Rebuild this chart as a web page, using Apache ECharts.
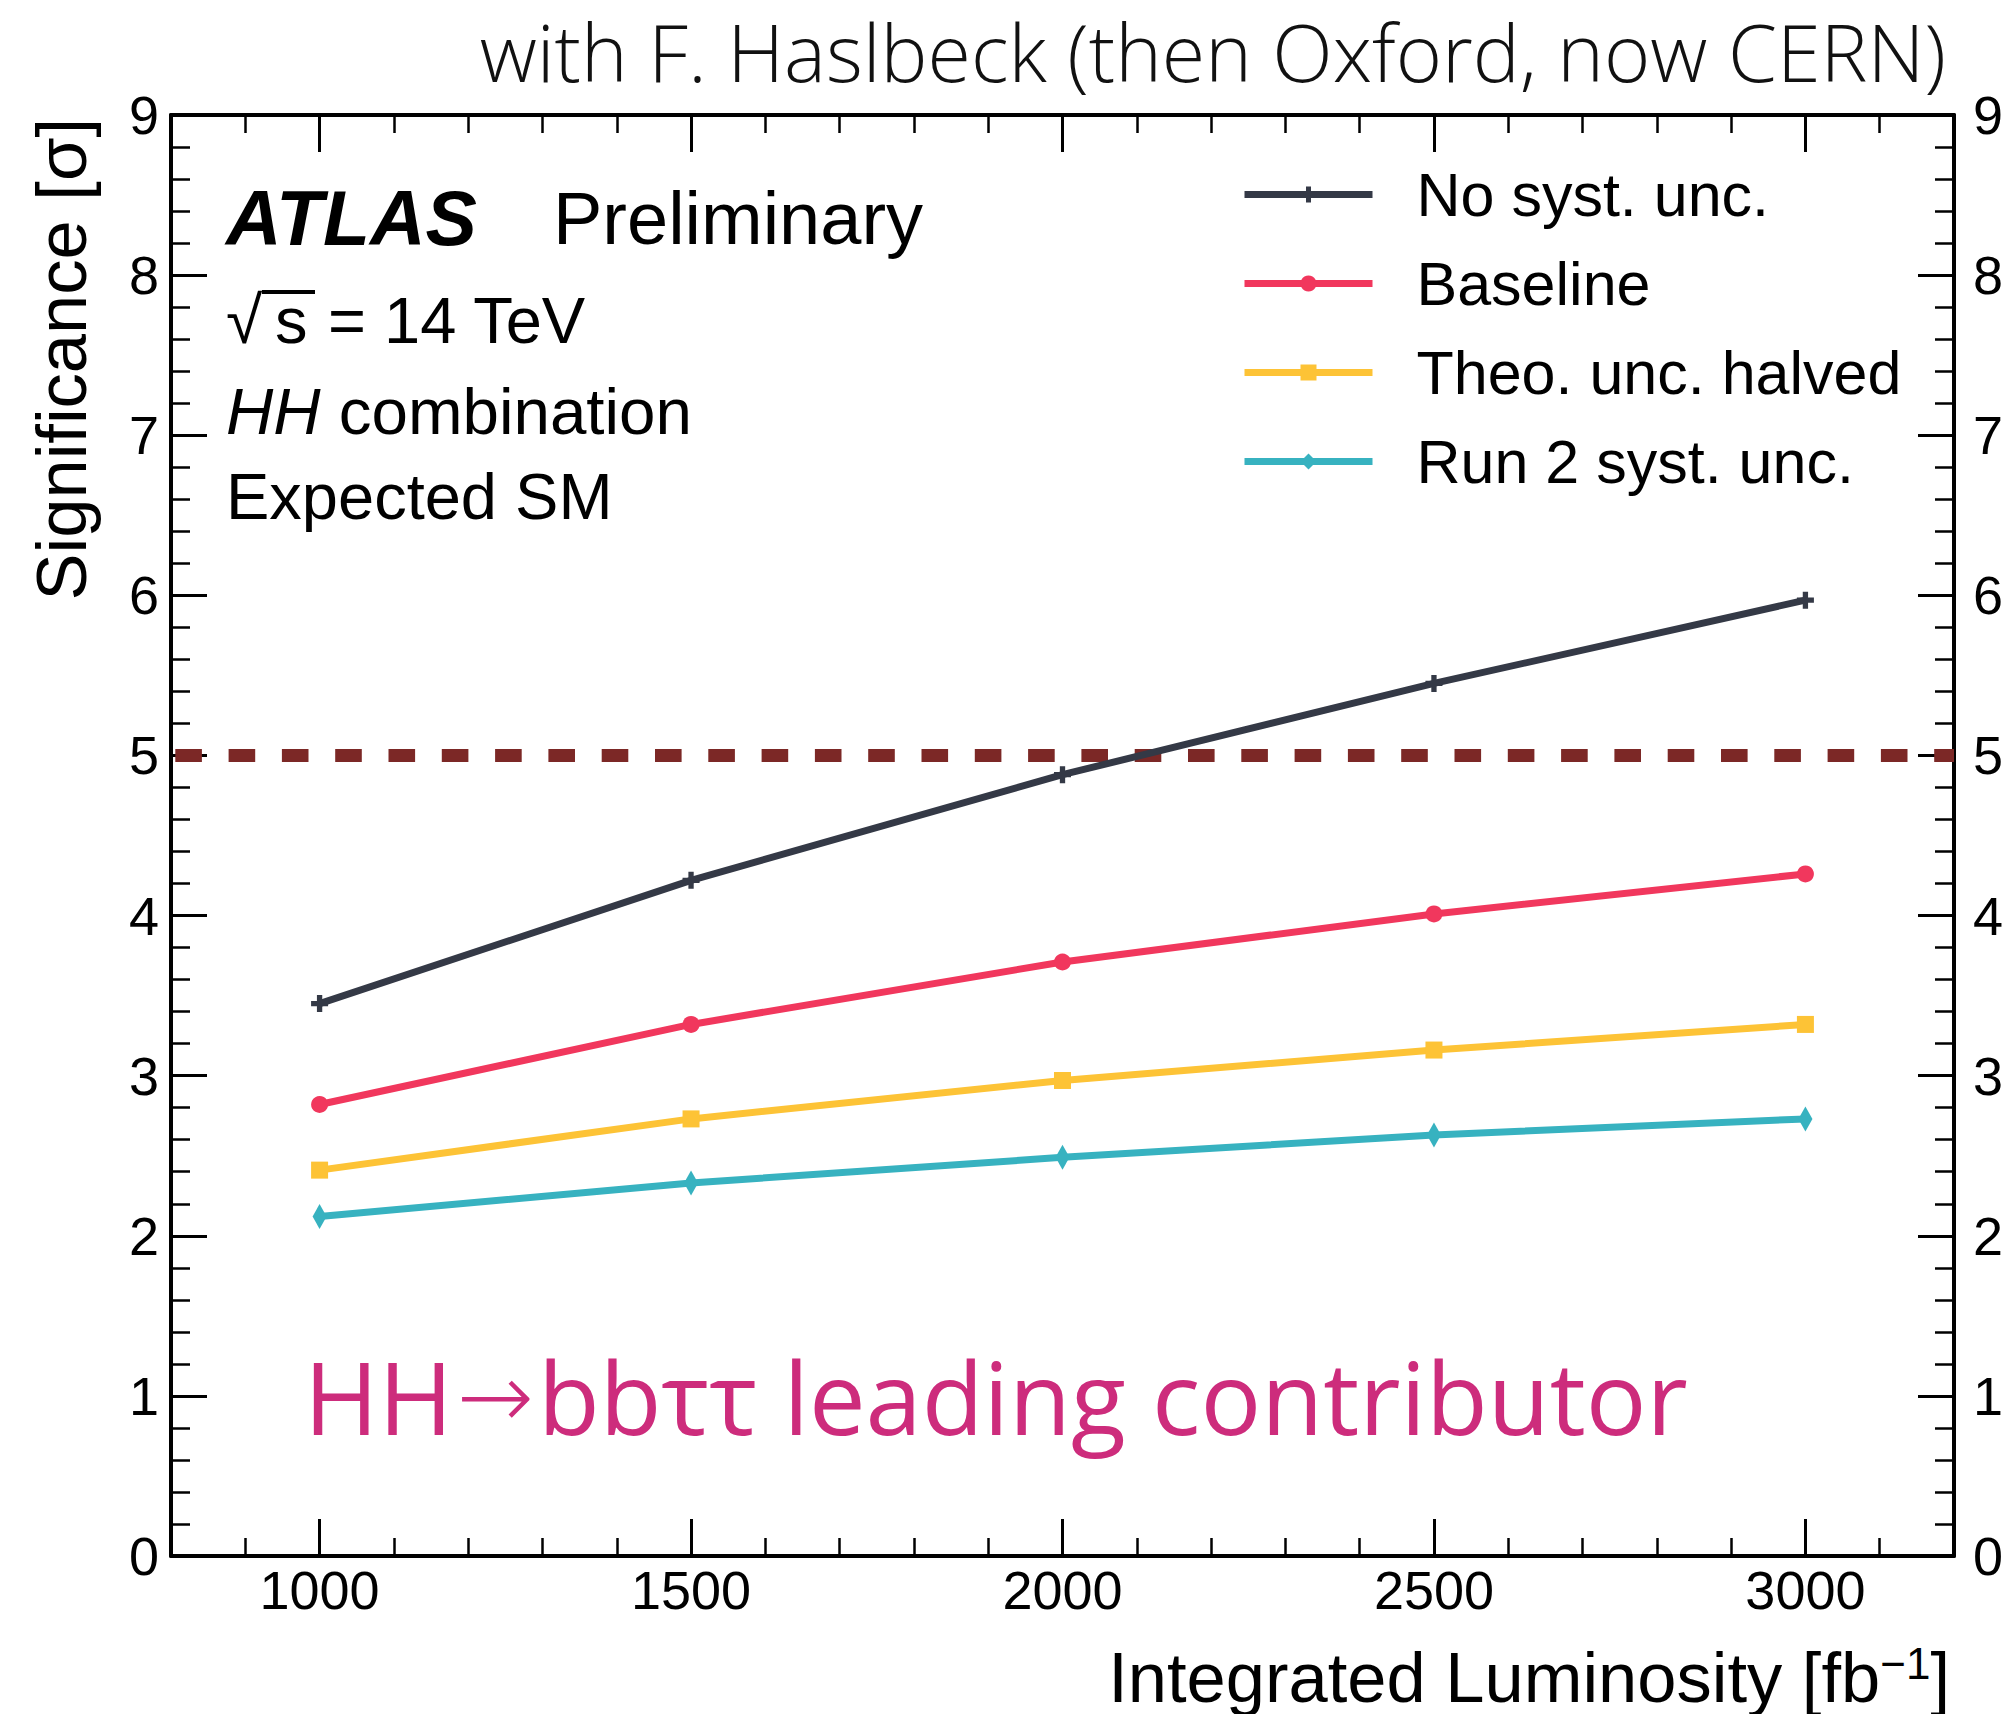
<!DOCTYPE html>
<html>
<head>
<meta charset="utf-8">
<title>HH significance vs integrated luminosity</title>
<script src="https://cdn.jsdelivr.net/npm/echarts@6/dist/echarts.min.js"></script>
<style>
  html, body { margin: 0; padding: 0; background: #ffffff; }
  #chart { width: 2007px; height: 1714px; }
</style>
</head>
<body>
<div id="chart"></div>
<script>
// Integrated luminosity points [fb^-1]
const luminosity = [1000, 1500, 2000, 2500, 3000];

// Expected significance [sigma] for each uncertainty scenario
const noSyst    = [3.45, 4.22, 4.88, 5.45, 5.97];
const baseline  = [2.82, 3.32, 3.71, 4.01, 4.26];
const theoHalf  = [2.41, 2.73, 2.97, 3.16, 3.32];
const run2Syst  = [2.12, 2.33, 2.49, 2.63, 2.73];

// Discovery threshold
const discoveryLevel = 5;

// Axis ranges and tick labels
const xRange = [800, 3200];
const yRange = [0, 9];
const xMajorTicks = [1000, 1500, 2000, 2500, 3000];

const seriesNames = ['No syst. unc.', 'Baseline', 'Theo. unc. halved', 'Run 2 syst. unc.'];
const seriesColors = ['#343946', '#f1375d', '#fdc336', '#37b2c0'];

const helv = '"Liberation Sans", Arial, Helvetica, sans-serif';
const plusSymbol = 'path://M0,5.5h5.5v-5.5h5v5.5h5.5v5h-5.5v5.5h-5v-5.5h-5.5z';
const lineWidth = 7;

const pairs = (ys) => luminosity.map((x, i) => [x, ys[i]]);

function lineSeries(name, ys, color, symbol, size) {
  return {
    name: name,
    type: 'line',
    xAxisIndex: 0,
    yAxisIndex: 0,
    data: pairs(ys),
    symbol: symbol,
    symbolSize: size,
    showAllSymbol: true,
    lineStyle: { color: color, width: lineWidth },
    itemStyle: { color: color, borderWidth: 0 },
    emphasis: { disabled: true },
    z: 5
  };
}

// Shared look of the frame axes
function xAxisBase(position, showLabels) {
  return {
    type: 'value',
    position: position,
    min: xRange[0],
    max: xRange[1],
    interval: 100,
    axisLine: { show: true, onZero: false, lineStyle: { color: '#000', width: 4 } },
    axisTick: { show: true, inside: true, length: 18, lineStyle: { color: '#000', width: 2.5 } },
    axisLabel: {
      show: showLabels,
      customValues: xMajorTicks,
      formatter: (v) => String(v),
      margin: 7,
      color: '#000',
      fontFamily: helv,
      fontSize: 54
    },
    splitLine: { show: false }
  };
}
function xAxisMajor(position) {
  return {
    type: 'value',
    position: position,
    min: xRange[0],
    max: xRange[1],
    interval: 100,
    axisLine: { show: false, onZero: false },
    axisTick: { show: true, inside: true, length: 37, customValues: xMajorTicks, lineStyle: { color: '#000', width: 3 } },
    axisLabel: { show: false },
    splitLine: { show: false }
  };
}
function yAxisBase(position, margin) {
  return {
    type: 'value',
    position: position,
    min: yRange[0],
    max: yRange[1],
    interval: 1,
    axisLine: { show: true, onZero: false, lineStyle: { color: '#000', width: 4 } },
    axisTick: { show: true, inside: true, length: 36, lineStyle: { color: '#000', width: 3 } },
    minorTick: { show: true, splitNumber: 5, length: 19, lineStyle: { color: '#000', width: 2.5 } },
    axisLabel: { show: true, margin: margin, color: '#000', fontFamily: helv, fontSize: 54 },
    splitLine: { show: false },
    minorSplitLine: { show: false }
  };
}

const chart = echarts.init(document.getElementById('chart'), null, { renderer: 'svg', width: 2007, height: 1714 });

const option = {
  backgroundColor: '#ffffff',
  animation: false,
  grid: { left: 171, top: 115, right: 53, bottom: 158, containLabel: false },
  xAxis: [
    xAxisBase('bottom', true),
    xAxisBase('top', false),
    xAxisMajor('bottom'),
    xAxisMajor('top')
  ],
  yAxis: [
    yAxisBase('left', 12),
    yAxisBase('right', 19)
  ],
  legend: {
    orient: 'vertical',
    left: 1241,
    top: 164,
    padding: 0,
    itemWidth: 128,
    itemHeight: 20,
    itemGap: 28,
    data: seriesNames,
    selectedMode: false,
    lineStyle: { width: lineWidth },
    textStyle: {
      fontFamily: helv,
      fontSize: 61,
      lineHeight: 60,
      color: '#000',
      padding: [0, 0, 0, 39]
    }
  },
  series: [
    {
      name: 'discovery',
      type: 'line',
      data: [[xRange[0], discoveryLevel], [xRange[1], discoveryLevel]],
      symbol: 'none',
      silent: true,
      lineStyle: { color: '#7c2826', width: 13, type: [26.6, 26.7], dashOffset: 49.3, cap: 'butt' },
      z: 3
    },
    lineSeries(seriesNames[0], noSyst, seriesColors[0], plusSymbol, 17),
    lineSeries(seriesNames[1], baseline, seriesColors[1], 'circle', 17),
    lineSeries(seriesNames[2], theoHalf, seriesColors[2], 'rect', 17),
    lineSeries(seriesNames[3], run2Syst, seriesColors[3], 'diamond', [14, 25])
  ],
  graphic: [
    // credit line above the frame
    {
      type: 'text', x: 1946, y: 51,
      style: {
        text: 'with F. Haslbeck (then Oxford, now CERN)',
        fontFamily: '"Open Sans", sans-serif', fontWeight: 300, fontSize: 79,
        lineHeight: 80,
        fill: '#111', align: 'right', verticalAlign: 'middle'
      }
    },
    // experiment label
    {
      type: 'text', x: 226, y: 218,
      style: {
        text: 'ATLAS', fontFamily: helv, fontWeight: 'bold', fontStyle: 'italic', fontSize: 77,
        fill: '#000', align: 'left', verticalAlign: 'middle'
      }
    },
    {
      type: 'text', x: 553, y: 218,
      style: {
        text: 'Preliminary', fontFamily: helv, fontSize: 74,
        fill: '#000', align: 'left', verticalAlign: 'middle'
      }
    },
    // centre-of-mass energy with a radical sign
    {
      type: 'text', x: 226, y: 320,
      style: { text: '\u221A', fontFamily: helv, fontSize: 66, fill: '#000', align: 'left', verticalAlign: 'middle' }
    },
    {
      type: 'text', x: 275, y: 320,
      style: { text: 's', fontFamily: helv, fontSize: 65, fill: '#000', align: 'left', verticalAlign: 'middle' }
    },
    {
      type: 'line',
      shape: { x1: 262, y1: 292, x2: 315, y2: 292 },
      style: { stroke: '#000', lineWidth: 4 }
    },
    {
      type: 'text', x: 328, y: 320,
      style: { text: '= 14 TeV', fontFamily: helv, fontSize: 65, fill: '#000', align: 'left', verticalAlign: 'middle' }
    },
    {
      type: 'text', x: 226, y: 411,
      style: {
        text: '{i|HH} combination',
        fontFamily: helv, fontSize: 65.5, fill: '#000', align: 'left', verticalAlign: 'middle',
        rich: { i: { fontFamily: helv, fontSize: 65.5, fontStyle: 'italic', fill: '#000' } }
      }
    },
    {
      type: 'text', x: 226, y: 496,
      style: { text: 'Expected SM', fontFamily: helv, fontSize: 65, fill: '#000', align: 'left', verticalAlign: 'middle' }
    },
    // channel annotation
    {
      type: 'text', x: 304, y: 1396,
      style: {
        text: 'HH{a|\u2192}bb\u03C4\u03C4 leading contributor',
        fontFamily: '"Open Sans", sans-serif', fontSize: 101,
        fill: '#cd2c7c', align: 'left', verticalAlign: 'middle',
        rich: {
          a: { fontFamily: '"DejaVu Sans", sans-serif', fontWeight: 200, fontSize: 92, fill: '#cd2c7c', padding: [0, 4, 0, 4] }
        }
      }
    },
    // axis titles
    {
      type: 'text', x: 1950, y: 1677,
      style: {
        text: 'Integrated Luminosity [fb{s|\u22121}]',
        fontFamily: helv, fontSize: 70.5, fill: '#000', align: 'right', verticalAlign: 'middle',
        rich: { s: { fontFamily: helv, fontSize: 44, fill: '#000', verticalAlign: 'top', padding: [0, 0, 24, 0] } }
      }
    },
    {
      type: 'text', x: 61, y: 118, rotation: Math.PI / 2,
      style: {
        text: 'Significance [\u03C3]',
        fontFamily: helv, fontSize: 70.5, fill: '#000', align: 'right', verticalAlign: 'middle'
      }
    }
  ]
};

chart.setOption(option);
</script>
</body>
</html>
